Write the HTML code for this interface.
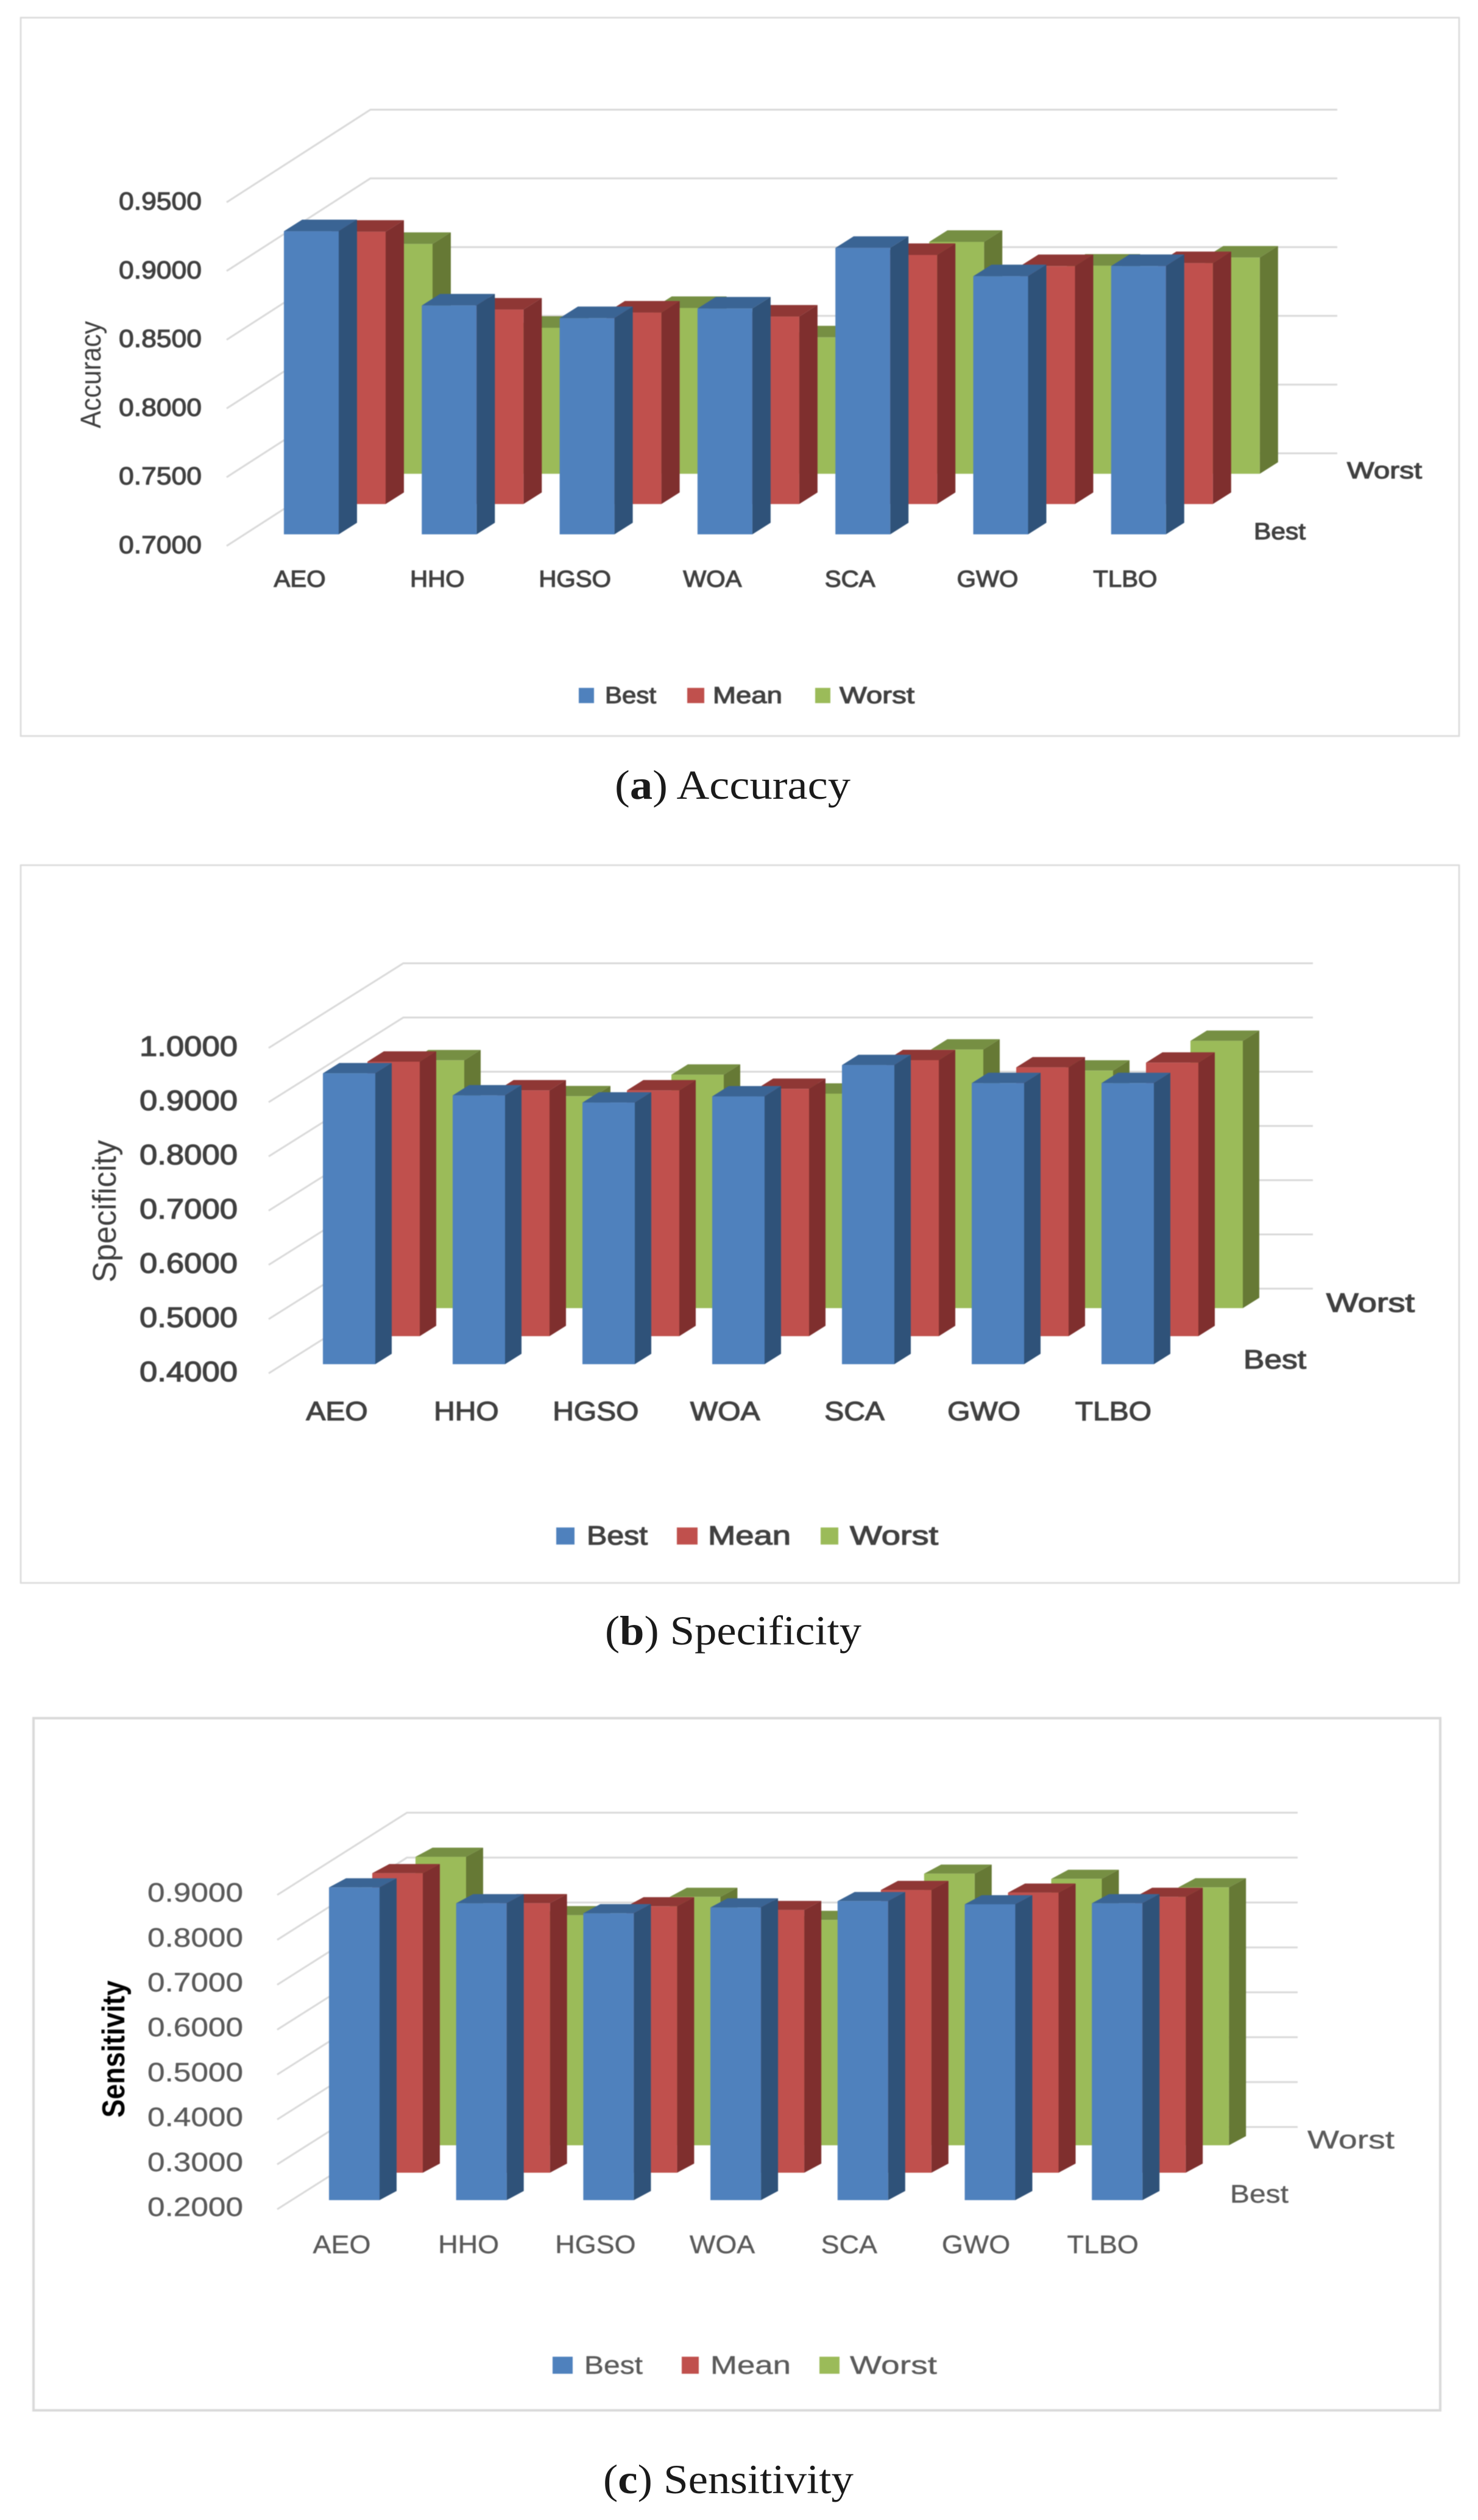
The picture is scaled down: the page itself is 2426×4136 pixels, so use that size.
<!DOCTYPE html>
<html lang="en">
<head>
<meta charset="utf-8">
<title>Accuracy, Specificity and Sensitivity bar charts</title>
<style>
html,body{margin:0;padding:0;background:#fff;}
svg{display:block;}
text{font-family:"Liberation Sans",sans-serif;}
.caption{font-family:"Liberation Serif",serif;font-size:68px;fill:#1a1a1a;}
.chart-group{filter:blur(0.9px);}
</style>
</head>
<body>
<svg id="root" xmlns="http://www.w3.org/2000/svg" width="2426" height="4136" viewBox="0 0 2426 4136">
  <rect x="0" y="0" width="2426" height="4136" fill="#ffffff"/>
  <text class="caption" x="1009" y="1311" textLength="387" lengthAdjust="spacingAndGlyphs">(<tspan font-weight="bold">a</tspan>) Accuracy</text>
  <text class="caption" x="993" y="2699" textLength="421" lengthAdjust="spacingAndGlyphs">(<tspan font-weight="bold">b</tspan>) Specificity</text>
  <text class="caption" x="990" y="4092" textLength="411" lengthAdjust="spacingAndGlyphs">(<tspan font-weight="bold">c</tspan>) Sensitivity</text>
</svg>
<script>
// ---- chart data ----
const categories = ["AEO", "HHO", "HGSO", "WOA", "SCA", "GWO", "TLBO"];
const seriesNames = ["Best", "Mean", "Worst"];

const accuracyTicks = ["0.7000", "0.7500", "0.8000", "0.8500", "0.9000", "0.9500"];
const accuracyBest = [0.9205, 0.8665, 0.8573, 0.8643, 0.9084, 0.8878, 0.8952];
const accuracyMean = [0.8981, 0.8415, 0.8393, 0.8364, 0.8812, 0.8731, 0.8753];
const accuracyWorst = [0.8672, 0.8062, 0.8206, 0.7992, 0.8687, 0.8514, 0.8573];

const specificityTicks = ["0.4000", "0.5000", "0.6000", "0.7000", "0.8000", "0.9000", "1.0000"];
const specificityBest = [0.9364, 0.8957, 0.8825, 0.8938, 0.9516, 0.9184, 0.9184];
const specificityMean = [0.9062, 0.8532, 0.8532, 0.8560, 0.9090, 0.8957, 0.9043];
const specificityWorst = [0.8570, 0.7907, 0.8305, 0.7955, 0.8768, 0.8380, 0.8929];

const sensitivityTicks = ["0.2000", "0.3000", "0.4000", "0.5000", "0.6000", "0.7000", "0.8000", "0.9000"];
const sensitivityBest = [0.8964, 0.8612, 0.8389, 0.8518, 0.8659, 0.8588, 0.8612];
const sensitivityMean = [0.8670, 0.8002, 0.7932, 0.7850, 0.8295, 0.8237, 0.8143];
const sensitivityWorst = [0.8424, 0.7123, 0.7533, 0.7018, 0.8049, 0.7932, 0.7744];

// ---- colours ----
const faceColors = ["#4F81BD", "#C0504D", "#9BBB59"];
const sideColors = ["#2F5279", "#7F2F2E", "#667935"];
const topColors = ["#3A6494", "#8F3735", "#768F43"];

// ---- layout ----
const layoutA = {
  key:"accuracy", title:"Accuracy", ticks:accuracyTicks, series:[accuracyBest,accuracyMean,accuracyWorst],
  frame:[34,29,2361,1179], frameW:2.5,
  barX:466, catStep:226.3, barW:90, sideDx:30, topDy:19, rowDx:77, rowDy:49.7, floorY:877, ppu:2256,
  gridX:372, gridY0:896, gridDx:236, gridDy:152, gridEnd:2195,
  tickRight:331, tickW:136, tickSize:41, tickBase:12,
  catX:492, catStepL:225.8, catY:963, catSize:38, catSx:1.06,
  weight:1.2, color:"#404040",
  legend:[[950,1129,25,993,84],[1128,1129,28,1170,114],[1338,1129,25,1378,123]], legendBase:1154, legendSize:38,
  worst:[2211,785,123], best:[2058,885,85], axisSize:38,
  yTitle:[165,615,176,47,"normal","#404040"]
};
const layoutB = {
  key:"specificity", title:"Specificity", ticks:specificityTicks, series:[specificityBest,specificityMean,specificityWorst],
  frame:[34,1420,2361,1178], frameW:2.5,
  barX:530, catStep:213, barW:86, sideDx:27, topDy:17, rowDx:73, rowDy:46, floorY:2239, ppu:890,
  gridX:441, gridY0:2254, gridDx:221, gridDy:139, gridEnd:2155,
  tickRight:390, tickW:161, tickSize:46, tickBase:13,
  catX:553, catStepL:212.4, catY:2331, catSize:44, catSx:1.09,
  weight:1.3, color:"#404040",
  legend:[[913,2507,30,963,100],[1111,2507,34,1162,136],[1347,2507,29,1395,145]], legendBase:2535, legendSize:44,
  worst:[2177,2153,145], best:[2041,2246,103], axisSize:44,
  yTitle:[190,1988,234,54,"normal","#404040"]
};
const layoutC = {
  key:"sensitivity", title:"Sensitivity", ticks:sensitivityTicks, series:[sensitivityBest,sensitivityMean,sensitivityWorst],
  frame:[55,2820,2309,1136], frameW:4,
  barX:540, catStep:208.7, barW:83, sideDx:28, topDy:15, rowDx:71, rowDy:45, floorY:3611, ppu:737,
  gridX:455, gridY0:3626, gridDx:213, gridDy:135, gridEnd:2130,
  tickRight:399, tickW:157, tickSize:44, tickBase:11,
  catX:561, catStepL:208.2, catY:3698, catSize:42, catSx:1.07,
  weight:0.4, color:"#5a5a5a",
  legend:[[907,3868,33,959,96],[1119,3868,28,1166,132],[1345,3868,33,1395,143]], legendBase:3896, legendSize:42,
  worst:[2146,3526,143], best:[2019,3615,96], axisSize:42,
  yTitle:[204,3363,225,52,"bold","#000000"]
};

const root = document.getElementById('root');
const NS = 'http://www.w3.org/2000/svg';

function make(parent, tag, props) {
  const el = document.createElementNS(NS, tag);
  for (const k in props) el.setAttribute(k, props[k]);
  parent.appendChild(el);
  return el;
}
function makeText(parent, str, x, y, size, width, L) {
  const el = make(parent, 'text', {x:x, y:y, 'font-size':size, fill:L.color});
  if (width) { el.setAttribute('textLength', width); el.setAttribute('lengthAdjust', 'spacingAndGlyphs'); }
  if (L.weight) { el.setAttribute('stroke', L.color); el.setAttribute('stroke-width', L.weight); }
  el.textContent = str;
  return el;
}

// axis functions
function tickY(L, t) { return L.gridY0 - (t - parseFloat(L.ticks[0])) * L.ppu; }
function barLeft(L, cat, row) { return L.barX + cat * L.catStep + row * L.rowDx; }
function barFloor(L, row) { return L.floorY - row * L.rowDy; }
function barTop(L, v, row) { return barFloor(L, row) - (v - parseFloat(L.ticks[0])) * L.ppu; }

function drawChart(L) {
  const g = make(root, 'g', {class:'chart-group'});
  
  

  const frame = make(g, 'rect', {x:L.frame[0], y:L.frame[1], width:L.frame[2], height:L.frame[3], fill:'#fff', stroke:'#D9D9D9', 'stroke-width':L.frameW});
  
  

  // gridlines and y tick labels
  L.ticks.forEach(function (label) {
    const t = parseFloat(label);
    const y = tickY(L, t);
    const pts = [L.gridX, y, L.gridX + L.gridDx, y - L.gridDy, L.gridEnd, y - L.gridDy].join(' ');
    const line = make(g, 'polyline', {points:pts, fill:'none', stroke:'#D9D9D9', 'stroke-width':3});
    
    
    const tl = makeText(g, label, L.tickRight - L.tickW, y + L.tickBase, L.tickSize, L.tickW, L);
    
    
  });

  // bars: back row first
  for (let row = 2; row >= 0; row--) {
    const vals = L.series[row];
    for (let c = vals.length - 1; c >= 0; c--) {
      const x = barLeft(L, c, row), fl = barFloor(L, row), tp = barTop(L, vals[c], row);
      const bar = make(g, 'g', {});
      
      
      const w = L.barW, dx = L.sideDx, dy = L.topDy;
      make(bar, 'polygon', {fill:topColors[row], points:[x,tp, x+dx,tp-dy, x+w+dx,tp-dy, x+w,tp].join(' ')});
      make(bar, 'polygon', {fill:sideColors[row], points:[x+w,tp, x+w+dx,tp-dy, x+w+dx,fl-dy, x+w,fl].join(' ')});
      make(bar, 'rect', {fill:faceColors[row], x:x, y:tp, width:w, height:fl-tp});
    }
  }

  // category labels
  categories.forEach(function (name, i) {
    const cx = L.catX + i * L.catStepL;
    const el = make(g, 'text', {'font-size':L.catSize, fill:L.color, 'text-anchor':'middle',
      transform:'translate(' + cx + ' ' + L.catY + ') scale(' + L.catSx + ' 1)'});
    if (L.weight) { el.setAttribute('stroke', L.color); el.setAttribute('stroke-width', L.weight); }
    el.textContent = name;
    
    
  });

  // depth-axis labels
  const dw = makeText(g, seriesNames[2], L.worst[0], L.worst[1], L.axisSize, L.worst[2], L);
  
  
  const db = makeText(g, seriesNames[0], L.best[0], L.best[1], L.axisSize, L.best[2], L);
  
  

  // legend
  seriesNames.forEach(function (name, i) {
    const e = L.legend[i];
    const entry = make(g, 'g', {});
    
    
    make(entry, 'rect', {x:e[0], y:e[1], width:e[2], height:L.legendBase - e[1], fill:faceColors[i]});
    makeText(entry, name, e[3], L.legendBase, L.legendSize, e[4], L);
  });

  // y axis title
  const yt = L.yTitle;
  const title = make(g, 'text', {'font-size':yt[3], 'font-weight':yt[4], fill:yt[5], 'text-anchor':'middle',
    textLength:yt[2], lengthAdjust:'spacingAndGlyphs',
    transform:'translate(' + yt[0] + ' ' + yt[1] + ') rotate(-90)'});
  title.textContent = L.title;
  
  
}

drawChart(layoutA);
drawChart(layoutB);
drawChart(layoutC);
</script>
</body>
</html>
